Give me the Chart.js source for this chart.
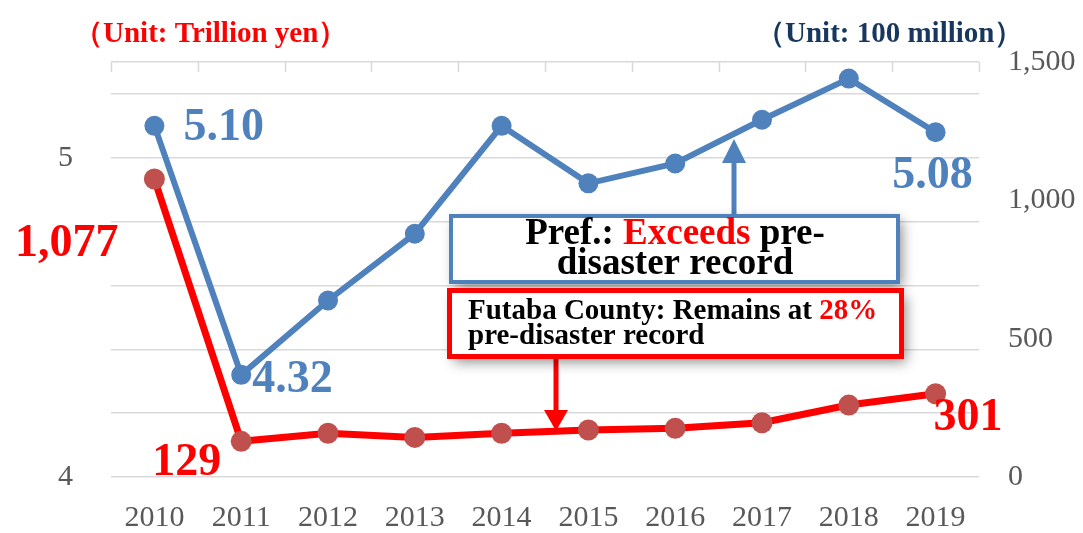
<!DOCTYPE html>
<html>
<head>
<meta charset="utf-8">
<script src="https://cdn.jsdelivr.net/npm/chart.js@4/dist/chart.umd.min.js"></script>
<style>
  html, body { margin: 0; padding: 0; background: #ffffff; }
  #wrap { width: 1083px; height: 533px; }
</style>
</head>
<body>
<div id="wrap"><canvas id="c" width="1083" height="533"></canvas></div>
<script>
// ---------- data ----------
const years = ['2010','2011','2012','2013','2014','2015','2016','2017','2018','2019'];
const prefValues = [5.10, 4.32, 4.553, 4.762, 5.10, 4.92, 4.982, 5.119, 5.248, 5.08];   // trillion yen (left axis)
const futabaValues = [1077, 129, 158, 143, 158, 170, 176, 196, 260, 301];             // 100 million yen (right axis)
const leftTickValues = [4, 4.2, 4.4, 4.6, 4.8, 5.0, 5.2, 5.3];
const leftTickLabels = ['4', '', '', '', '', '5', '', ''];
const rightTickValues = [0, 500, 1000, 1500];
const leftUnitTitle = '（Unit: Trillion yen）';
const rightUnitTitle = '（Unit: 100 million）';
const prefLabelIdx = [0, 1, 9];
const futabaLabelIdx = [0, 1, 9];

// ---------- styles ----------
const BLUE = '#4F81BD';
const RED = '#FF0000';
const RED_PT = '#C0504D';
const GRID = '#D9D9D9';
const TICK_COL = '#595959';
const SERIF = '"Liberation Serif", "Times New Roman", serif';

// label placement (offsets from the point in px)
const prefLabelPos = [
  {dx: 29, dy: 2, align: 'left'},
  {dx: 11, dy: 5, align: 'left'},
  {dx: -3, dy: 44, align: 'center'}
];
const futabaLabelPos = [
  {dx: -36, dy: 65, align: 'right'},
  {dx: -20, dy: 22, align: 'right'},
  {dx: -2, dy: 24, align: 'left'}
];

const fmt2 = v => v.toFixed(2);
const fmtInt = v => v.toLocaleString('en-US');

const topTickPlugin = {
  id: 'topTicks',
  beforeDatasetsDraw(chart) {
    const ctx = chart.ctx, xs = chart.scales.x, ca = chart.chartArea;
    const step = xs.getPixelForValue(1) - xs.getPixelForValue(0);
    ctx.save();
    ctx.strokeStyle = GRID;
    ctx.lineWidth = 1.5;
    ctx.beginPath();
    for (let i = 0; i <= years.length; i++) {
      const x = Math.round(xs.getPixelForValue(0) - step / 2 + i * step) + 0.5;
      ctx.moveTo(x, ca.top);
      ctx.lineTo(x, ca.top + 10);
    }
    ctx.stroke();
    ctx.restore();
  }
};

const labelPlugin = {
  id: 'valueLabels',
  afterDatasetsDraw(chart) {
    const ctx = chart.ctx;
    ctx.save();
    ctx.font = 'bold 46px ' + SERIF;
    ctx.textBaseline = 'middle';
    const m0 = chart.getDatasetMeta(0), m1 = chart.getDatasetMeta(1);
    prefLabelIdx.forEach((idx, k) => {
      const p = m0.data[idx], pos = prefLabelPos[k];
      ctx.fillStyle = BLUE;
      ctx.textAlign = pos.align;
      ctx.fillText(fmt2(prefValues[idx]), p.x + pos.dx, p.y + pos.dy);
    });
    futabaLabelIdx.forEach((idx, k) => {
      const p = m1.data[idx], pos = futabaLabelPos[k];
      ctx.fillStyle = RED;
      ctx.textAlign = pos.align;
      ctx.fillText(fmtInt(futabaValues[idx]), p.x + pos.dx, p.y + pos.dy);
    });
    ctx.restore();
  }
};

function drawArrow(ctx, x, y0, y1, color, shaft, headW, headL) {
  const dir = y1 > y0 ? 1 : -1;
  ctx.save();
  ctx.strokeStyle = color;
  ctx.fillStyle = color;
  ctx.lineWidth = shaft;
  ctx.beginPath();
  ctx.moveTo(x, y0);
  ctx.lineTo(x, y1 - dir * headL);
  ctx.stroke();
  ctx.beginPath();
  ctx.moveTo(x, y1);
  ctx.lineTo(x - headW / 2, y1 - dir * headL);
  ctx.lineTo(x + headW / 2, y1 - dir * headL);
  ctx.closePath();
  ctx.fill();
  ctx.restore();
}

function drawSegments(ctx, segs, x, y, align) {
  let total = 0;
  segs.forEach(s => total += ctx.measureText(s[0]).width);
  let cx = align === 'center' ? x - total / 2 : x;
  ctx.textAlign = 'left';
  segs.forEach(s => {
    ctx.fillStyle = s[1];
    ctx.fillText(s[0], cx, y);
    cx += ctx.measureText(s[0]).width;
  });
}

function shadowBox(ctx, x, y, w, h, color, lw) {
  ctx.save();
  ctx.shadowColor = 'rgba(0,0,0,0.45)';
  ctx.shadowBlur = 12;
  ctx.shadowOffsetX = 4;
  ctx.shadowOffsetY = 5;
  ctx.fillStyle = '#ffffff';
  ctx.fillRect(x, y, w, h);
  ctx.restore();
  ctx.strokeStyle = color;
  ctx.lineWidth = lw;
  ctx.strokeRect(x, y, w, h);
}

const annotationPlugin = {
  id: 'annotations',
  afterDraw(chart) {
    const ctx = chart.ctx;
    ctx.save();
    // unit titles
    ctx.textBaseline = 'alphabetic';
    ctx.font = 'bold 29px ' + SERIF;
    ctx.fillStyle = RED;
    ctx.textAlign = 'left';
    ctx.fillText(leftUnitTitle, 74, 42);
    ctx.fillStyle = '#17375E';
    ctx.fillText(rightUnitTitle, 756, 42);

    // arrows
    drawArrow(ctx, 734, 216, 139, BLUE, 5, 24, 24);
    drawArrow(ctx, 556, 356, 431, RED, 5, 24, 21);

    // boxes
    shadowBox(ctx, 451, 216, 447, 66, BLUE, 4);
    shadowBox(ctx, 449.5, 290.5, 452, 66, RED, 5);

    // blue box text
    ctx.font = 'bold 37px ' + SERIF;
    drawSegments(ctx, [['Pref.: ', '#000000'], ['Exceeds', RED], [' pre-', '#000000']], 675, 244, 'center');
    drawSegments(ctx, [['disaster record', '#000000']], 675, 274, 'center');

    // red box text
    ctx.font = 'bold 29px ' + SERIF;
    drawSegments(ctx, [['Futaba County: Remains at ', '#000000'], ['28%', RED]], 468, 319, 'left');
    drawSegments(ctx, [['pre-disaster record', '#000000']], 468, 344, 'left');
    ctx.restore();
  }
};

new Chart(document.getElementById('c'), {
  type: 'line',
  data: {
    labels: years,
    datasets: [
      {
        label: 'Pref.',
        data: prefValues,
        yAxisID: 'y',
        borderColor: BLUE,
        backgroundColor: BLUE,
        borderWidth: 6,
        pointRadius: 10,
        pointBorderWidth: 0,
        pointBackgroundColor: BLUE,
        tension: 0,
        order: 2
      },
      {
        label: 'Futaba County',
        data: futabaValues,
        yAxisID: 'y1',
        borderColor: RED,
        backgroundColor: RED_PT,
        borderWidth: 7,
        pointRadius: 10.5,
        pointBorderWidth: 0,
        pointBackgroundColor: RED_PT,
        tension: 0,
        order: 1
      }
    ]
  },
  options: {
    responsive: false,
    animation: false,
    events: [],
    layout: { padding: { top: 62, left: 0, right: 0, bottom: 0 } },
    plugins: { legend: { display: false }, tooltip: { enabled: false } },
    scales: {
      x: {
        offset: true,
        grid: { display: false },
        border: { display: false },
        ticks: { color: TICK_COL, font: { family: SERIF, size: 30 }, padding: 15, maxRotation: 0 },
        afterFit(s) { s.height = 54; }
      },
      y: {
        position: 'left',
        min: 4,
        max: 5.3,
        afterBuildTicks(s) { s.ticks = leftTickValues.map(v => ({ value: v })); },
        ticks: {
          color: TICK_COL,
          font: { family: SERIF, size: 30 },
          padding: 38,
          callback(v) { const i = leftTickValues.findIndex(t => Math.abs(t - v) < 1e-6); return i >= 0 ? leftTickLabels[i] : ''; }
        },
        grid: { color: GRID, lineWidth: 1.5, drawTicks: false },
        border: { display: false },
        afterFit(s) { s.width = 111; }
      },
      y1: {
        position: 'right',
        min: 0,
        max: 1500,
        afterBuildTicks(s) { s.ticks = rightTickValues.map(v => ({ value: v })); },
        ticks: {
          color: TICK_COL,
          font: { family: SERIF, size: 30 },
          padding: 29,
          callback(v) { return fmtInt(v); }
        },
        grid: { drawOnChartArea: false, drawTicks: false },
        border: { display: false },
        afterFit(s) { s.width = 104; }
      }
    }
  },
  plugins: [topTickPlugin, labelPlugin, annotationPlugin]
});
</script>
</body>
</html>
